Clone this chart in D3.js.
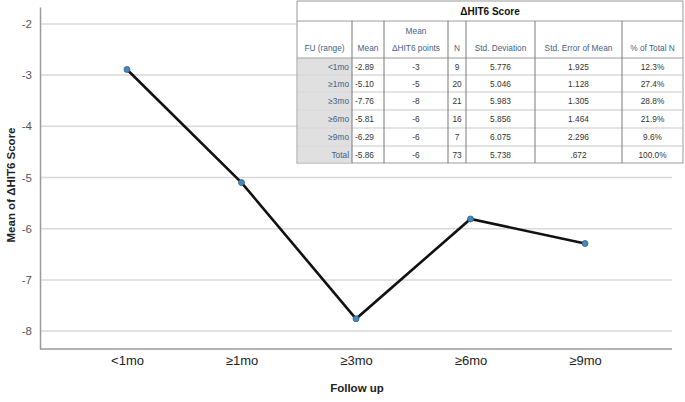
<!DOCTYPE html>
<html>
<head>
<meta charset="utf-8">
<script src="https://cdn.jsdelivr.net/npm/d3@7"></script>
<style>
  body { margin: 0; background: #fff; }
  svg { font-family: "Liberation Sans", Arial, sans-serif; }
</style>
</head>
<body>
<div id="chart"></div>
<script>
// chart data
const categories = ["<1mo", "≥1mo", "≥3mo", "≥6mo", "≥9mo"];
const means = [-2.89, -5.10, -7.76, -5.81, -6.29];
const yTicks = [-2, -3, -4, -5, -6, -7, -8];

// table data
const tableRows = ["<1mo", "≥1mo", "≥3mo", "≥6mo", "≥9mo", "Total"];
const tableMeans = ["-2.89", "-5.10", "-7.76", "-5.81", "-6.29", "-5.86"];
const tablePoints = ["-3", "-5", "-8", "-6", "-6", "-6"];
const tableN = ["9", "20", "21", "16", "7", "73"];
const tableSD = ["5.776", "5.046", "5.983", "5.856", "6.075", "5.738"];
const tableSE = ["1.925", "1.128", "1.305", "1.464", "2.296", ".672"];
const tablePct = ["12.3%", "27.4%", "28.8%", "21.9%", "9.6%", "100.0%"];

const width = 685, height = 402;
const svg = d3.select("#chart").append("svg")
    .attr("width", width).attr("height", height);

const x = d3.scalePoint().domain(categories).range([40, 672]).padding(0.76);
const y = d3.scaleLinear().domain([-8.35, -1.67]).range([349, 7]);

// gridlines
svg.append("g")
    .selectAll("line")
    .data(yTicks)
    .enter().append("line")
    .attr("x1", 41).attr("x2", 672)
    .attr("y1", d => y(d)).attr("y2", d => y(d))
    .attr("stroke", "#d9d9d9").attr("stroke-width", 1.5);

// y axis
const yAxis = svg.append("g")
    .attr("transform", "translate(40,0)")
    .call(d3.axisLeft(y).tickValues(yTicks).tickSize(0).tickPadding(8).tickFormat(d => String(d)));
yAxis.select(".domain").attr("stroke", "#9a9a9a").attr("stroke-width", 1.5);
yAxis.selectAll("text").attr("fill", "#555").attr("font-size", 11.5).attr("font-family", "Liberation Sans, Arial");

// x axis
const xAxis = svg.append("g")
    .attr("transform", "translate(0,349)")
    .call(d3.axisBottom(x).tickSize(0).tickPadding(7));
xAxis.select(".domain").attr("stroke", "#9a9a9a").attr("stroke-width", 1.5)
    .attr("d", "M40,0H672");
xAxis.selectAll("text").attr("fill", "#222").attr("font-size", 13).attr("font-family", "Liberation Sans, Arial");

// axis titles
svg.append("text")
    .attr("x", 357).attr("y", 392)
    .attr("text-anchor", "middle")
    .attr("font-size", 11.5).attr("font-weight", "bold").attr("fill", "#222")
    .text("Follow up");
svg.append("text")
    .attr("transform", "translate(15,185) rotate(-90)")
    .attr("text-anchor", "middle")
    .attr("font-size", 11.5).attr("font-weight", "bold").attr("fill", "#222")
    .text("Mean of ΔHIT6 Score");

// line
const line = d3.line().x((d, i) => x(categories[i])).y(d => y(d));
svg.append("path")
    .datum(means)
    .attr("d", line)
    .attr("fill", "none")
    .attr("stroke", "#111")
    .attr("stroke-width", 2.6);

svg.append("g")
    .selectAll("circle")
    .data(means)
    .enter().append("circle")
    .attr("cx", (d, i) => x(categories[i]))
    .attr("cy", d => y(d))
    .attr("r", 3)
    .attr("fill", "#4a86b8")
    .attr("stroke", "#2a5f8f")
    .attr("stroke-width", 0.8);

// table
const colEdges = [297, 352, 384, 448, 466, 535, 622, 683];
const rowEdges = [1, 21, 58, 75, 92, 110, 128, 146, 163];
const headerColor = "#3f5f86";
const tbl = svg.append("g").attr("font-size", 8.3);

tbl.append("rect")
    .attr("x", colEdges[0]).attr("y", rowEdges[0])
    .attr("width", colEdges[7] - colEdges[0]).attr("height", rowEdges[8] - rowEdges[0])
    .attr("fill", "#fff").attr("stroke", "#9a9a9a").attr("stroke-width", 1);

// row header shading
tbl.selectAll("rect.rowhead")
    .data(tableRows)
    .enter().append("rect")
    .attr("class", "rowhead")
    .attr("x", colEdges[0] + 1).attr("y", (d, i) => rowEdges[i + 2] + 0.5)
    .attr("width", colEdges[1] - colEdges[0] - 1)
    .attr("height", (d, i) => rowEdges[i + 3] - rowEdges[i + 2] - 1)
    .attr("fill", "#e0e0e0");

// title
tbl.append("text")
    .attr("x", (colEdges[0] + colEdges[7]) / 2).attr("y", 15)
    .attr("text-anchor", "middle")
    .attr("font-size", 10).attr("font-weight", "bold").attr("fill", "#111")
    .text("ΔHIT6 Score");

// horizontal lines
tbl.selectAll("line.h")
    .data(rowEdges.slice(1, 8))
    .enter().append("line")
    .attr("x1", colEdges[0])
    .attr("x2", colEdges[7])
    .attr("y1", d => d).attr("y2", d => d)
    .attr("stroke", (d, i) => i < 2 ? "#9a9a9a" : "#c8c8c8")
    .attr("stroke-width", 1);

// vertical lines
tbl.selectAll("line.v")
    .data(colEdges.slice(1, 7))
    .enter().append("line")
    .attr("x1", d => d).attr("x2", d => d)
    .attr("y1", rowEdges[1]).attr("y2", rowEdges[8])
    .attr("stroke", "#7a7a7a").attr("stroke-width", 1);

// header
const headers = ["FU (range)", "Mean", "ΔHIT6 points", "N", "Std. Deviation", "Std. Error of Mean", "% of Total N"];
tbl.selectAll("text.hdr")
    .data(headers)
    .enter().append("text")
    .attr("x", (d, i) => (colEdges[i] + colEdges[i + 1]) / 2)
    .attr("y", 51)
    .attr("text-anchor", "middle")
    .attr("fill", headerColor)
    .text(d => d);
tbl.append("text")
    .attr("x", (colEdges[2] + colEdges[3]) / 2).attr("y", 34)
    .attr("text-anchor", "middle").attr("fill", headerColor)
    .text("Mean");

// body cells
const columns = [tableMeans, tablePoints, tableN, tableSD, tableSE, tablePct];
tableRows.forEach((r, i) => {
    const yy = (rowEdges[i + 2] + rowEdges[i + 3]) / 2 + 3;
    tbl.append("text")
        .attr("x", colEdges[1] - 3).attr("y", yy)
        .attr("text-anchor", "end").attr("fill", headerColor)
        .text(r);
    columns.forEach((col, j) => {
        const left = j === 0;
        tbl.append("text")
            .attr("x", left ? colEdges[1] + 3 : (colEdges[j + 1] + colEdges[j + 2]) / 2)
            .attr("y", yy)
            .attr("text-anchor", left ? "start" : "middle")
            .attr("fill", "#333")
            .text(col[i]);
    });
});
</script>
</body>
</html>
